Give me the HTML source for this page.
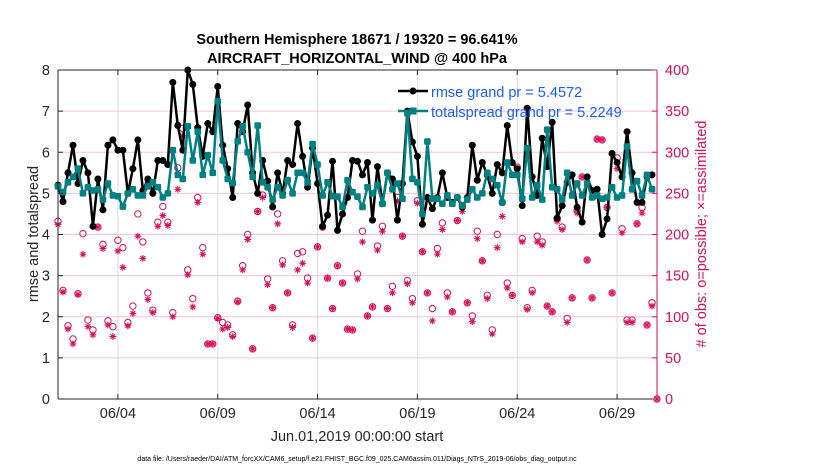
<!DOCTYPE html>
<html><head><meta charset="utf-8"><style>
body{margin:0;background:#fff;width:830px;height:470px;overflow:hidden}
svg text{font-family:"Liberation Sans",Arial,sans-serif}
</style></head><body>
<svg id="chart" width="830" height="470" viewBox="0 0 830 470" xmlns="http://www.w3.org/2000/svg">
<rect x="0" y="0" width="830" height="470" fill="#fff"/>
<rect x="58" y="70" width="599" height="329" fill="#fff"/>
<g id="grid"></g>
<g id="obs"></g>
<g id="series"></g>
<g id="axes"></g>
<text x="357" y="44" font-size="14.5" font-weight="bold" text-anchor="middle">Southern Hemisphere 18671 / 19320 = 96.641%</text>
<text x="357" y="63" font-size="14.5" font-weight="bold" text-anchor="middle">AIRCRAFT_HORIZONTAL_WIND @ 400 hPa</text>
<text x="357" y="441" font-size="14.5" text-anchor="middle" fill="#262626">Jun.01,2019 00:00:00 start</text>
<text x="357" y="461" font-size="7" text-anchor="middle" fill="#000">data file: /Users/raeder/DAI/ATM_forcXX/CAM6_setup/f.e21.FHIST_BGC.f09_025.CAM6assim.011/Diags_NTrS_2019-06/obs_diag_output.nc</text>
<text transform="translate(38,234) rotate(-90)" font-size="14.5" text-anchor="middle" fill="#262626">rmse and totalspread</text>
<text transform="translate(706,234) rotate(-90)" font-size="14.5" text-anchor="middle" fill="#d6105a"># of obs: o=possible; ×=assimilated</text>
<g>
<line x1="398" y1="91" x2="428" y2="91" stroke="#000" stroke-width="2.5"/>
<circle cx="413" cy="91" r="3.5" fill="#000"/>
<text x="431" y="97" font-size="14.5" fill="#1a5cff">rmse grand pr = 5.4572</text>
<line x1="398" y1="111" x2="428" y2="111" stroke="#008080" stroke-width="2.5"/>
<rect x="409.5" y="107.5" width="7" height="7" fill="#008080"/>
<text x="431" y="117" font-size="14.5" fill="#1a5cff">totalspread grand pr = 5.2249</text>
</g>
</svg>
<script>
const rmse=[5.2,4.8,5.5,6.17,5.24,5.8,5.5,4.2,5.35,4.6,6.17,6.3,6.05,6.05,5.0,5.6,6.3,5.07,5.35,5.0,5.8,5.8,5.7,7.7,6.65,6.05,8.0,7.65,6.6,5.9,6.7,6.5,7.6,6.17,5.6,4.9,6.7,6.5,7.15,5.5,5.0,5.8,5.3,4.67,5.5,5.0,5.8,5.7,6.7,5.9,5.15,6.1,5.24,4.2,4.47,5.78,4.1,4.5,4.9,5.8,5.78,5.45,
5.75,4.35,5.65,4.75,5.5,5.35,4.35,5.24,7.0,6.25,5.9,4.25,4.9,4.63,4.9,5.5,4.9,4.78,4.9,4.66,4.9,6.17,5.32,5.75,5.45,5.0,5.7,5.5,6.65,5.75,5.6,4.7,7.07,5.4,4.95,6.34,5.65,6.73,4.4,4.7,5.27,5.45,4.66,4.3,5.4,5.07,5.1,4.0,4.38,5.97,5.75,5.4,6.5,5.5,4.78,4.78,5.4,5.45];
const spread=[5.17,5.03,5.27,5.4,5.6,5.0,5.15,5.07,5.1,4.85,5.24,4.95,4.93,4.68,5.0,5.1,4.95,4.95,5.17,5.27,5.15,4.9,5.0,6.05,5.45,5.35,6.63,5.8,6.5,5.45,5.93,5.5,7.24,5.8,5.35,5.25,6.27,6.63,6.0,5.4,6.65,5.27,5.15,4.85,5.15,4.95,5.32,5.0,5.5,5.5,5.27,6.2,5.7,4.95,5.27,4.93,4.92,4.67,5.32,5.03,4.92,4.67,
5.15,5.0,5.2,4.75,5.5,5.1,5.24,4.87,6.95,5.35,5.27,4.5,6.26,4.87,4.87,4.75,4.95,4.75,4.9,4.7,4.85,5.1,4.9,5.0,5.5,5.35,5.2,4.78,5.75,5.45,5.45,4.87,6.1,4.9,5.2,4.85,6.55,5.15,5.1,4.85,5.5,4.95,5.24,4.95,5.24,4.9,4.95,4.87,4.9,5.15,4.9,4.95,6.14,5.1,5.3,4.95,5.45,5.1];
const possible=[216,132,89,73,128,201,96,84,209,188,95,88,193,184,93,113,225,191,129,108,215,234,215,105,281,329,157,122,245,184,67,67,99,93,90,78,119,162,200,61,228,248,146,111,225,168,129,90,177,179,147,74,185,209,147,110,162,141,85,84,152,204,
101,112,186,210,110,137,245,198,144,122,241,179,129,110,183,214,129,106,217,235,117,101,204,168,126,84,200,239,141,126,282,195,111,132,198,191,113,106,219,209,98,123,229,270,169,123,316,315,233,129,293,207,96,96,213,233,90,117,0];
const assimilated=[212,130,85,67,127,176,88,78,209,183,90,76,180,160,89,104,198,171,121,105,210,223,211,100,255,320,151,112,239,176,67,67,98,85,87,76,118,157,194,61,228,245,139,111,213,163,129,87,157,165,141,74,185,209,147,110,162,141,85,84,146,191,
101,112,181,204,110,129,241,198,140,117,238,179,129,95,176,206,124,106,217,228,117,94,195,168,122,79,184,222,135,126,273,191,109,129,191,187,113,106,216,206,93,123,226,270,169,123,316,315,233,129,280,202,93,93,213,226,90,113,0];
const xTickDays=[3,8,13,18,23,28];
const xTickLabels=["06/04","06/09","06/14","06/19","06/24","06/29"];
const leftTicks=[0,1,2,3,4,5,6,7,8];
const rightTicks=[0,50,100,150,200,250,300,350,400];

const X0=58,X1=657,Y0=399,Y1=70;
const xd=d=>X0+(X1-X0)*d/30;
const xi=i=>xd(i/4);
const yl=v=>Y0-(Y0-Y1)*v/8;
const yr=v=>Y0-(Y0-Y1)*v/400;
const NS="http://www.w3.org/2000/svg";
function mk(tag,attrs,parent){const e=document.createElementNS(NS,tag);for(const k in attrs)e.setAttribute(k,attrs[k]);parent.appendChild(e);return e;}
const grid=document.getElementById('grid'),obs=document.getElementById('obs'),ser=document.getElementById('series'),axes=document.getElementById('axes');
const MAG="#d6105a";
function star(cx,cy,s){return `M${cx-s},${cy}H${cx+s}M${cx},${cy-s}V${cy+s}M${cx-s*0.7},${cy-s*0.7}L${cx+s*0.7},${cy+s*0.7}M${cx-s*0.7},${cy+s*0.7}L${cx+s*0.7},${cy-s*0.7}`;}
leftTicks.forEach(t=>{if(t>0&&t<8){const l=mk('line',{x1:X0,x2:X1,y1:yl(t),y2:yl(t),stroke:'#f2c6d6','stroke-width':1},grid);

}});
xTickDays.forEach(d=>{const l=mk('line',{x1:xd(d),x2:xd(d),y1:Y1,y2:Y0,stroke:'#dcdcdc','stroke-width':1},grid);

});
possible.forEach((v,i)=>{const c=mk('circle',{cx:xi(i),cy:yr(v),r:3.2,fill:'none',stroke:MAG,'stroke-width':1},obs);

});
assimilated.forEach((v,i)=>{const g=mk('path',{d:star(xi(i),yr(v),3.4),fill:'none',stroke:MAG,'stroke-width':1.1},obs);

});
const rp=mk('polyline',{points:rmse.map((v,i)=>xi(i)+','+yl(v)).join(' '),fill:'none',stroke:'#000','stroke-width':2.5,'stroke-linejoin':'round'},ser);


rmse.forEach((v,i)=>{const c=mk('circle',{cx:xi(i),cy:yl(v),r:3.5,fill:'#000'},ser);

});
const sp=mk('polyline',{points:spread.map((v,i)=>xi(i)+','+yl(v)).join(' '),fill:'none',stroke:'#008080','stroke-width':2.5,'stroke-linejoin':'round'},ser);


spread.forEach((v,i)=>{const r=mk('rect',{x:xi(i)-3.3,y:yl(v)-3.3,width:6.6,height:6.6,rx:1.5,fill:'#008080'},ser);

});
const la=mk('line',{x1:X0,x2:X0,y1:Y1,y2:Y0,stroke:'#262626','stroke-width':1},axes);


const ba=mk('line',{x1:X0,x2:X1,y1:Y0,y2:Y0,stroke:'#262626','stroke-width':1},axes);


const ta=mk('line',{x1:X0,x2:X1,y1:Y1,y2:Y1,stroke:'#262626','stroke-width':1},axes);


const ra=mk('line',{x1:X1,x2:X1,y1:Y1,y2:Y0,stroke:MAG,'stroke-width':1},axes);


leftTicks.forEach(t=>{mk('line',{x1:X0,x2:X0+5,y1:yl(t),y2:yl(t),stroke:'#262626'},axes);
const tx=mk('text',{x:X0-8,y:yl(t)+5,'font-size':14.5,'text-anchor':'end',fill:'#262626'},axes);tx.textContent=t;

});
rightTicks.forEach(t=>{mk('line',{x1:X1-5,x2:X1,y1:yr(t),y2:yr(t),stroke:MAG},axes);
const tx=mk('text',{x:X1+8,y:yr(t)+5,'font-size':14.5,'text-anchor':'start',fill:MAG},axes);tx.textContent=t;

});
xTickDays.forEach((d,k)=>{mk('line',{x1:xd(d),x2:xd(d),y1:Y0,y2:Y0-5,stroke:'#262626'},axes);mk('line',{x1:xd(d),x2:xd(d),y1:Y1,y2:Y1+5,stroke:'#262626'},axes);
const tx=mk('text',{x:xd(d),y:Y0+19,'font-size':14.5,'text-anchor':'middle',fill:'#262626'},axes);tx.textContent=xTickLabels[k];

});
</script>
</body></html>
